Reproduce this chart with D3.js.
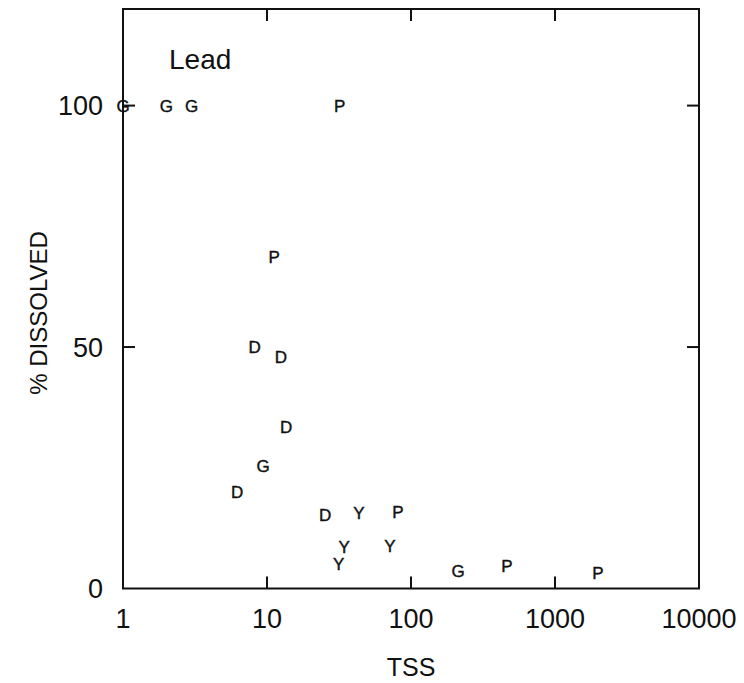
<!DOCTYPE html>
<html>
<head>
<meta charset="utf-8">
<script src="https://cdn.jsdelivr.net/npm/d3@7"></script>
<style>
  html, body { margin: 0; padding: 0; background: #fff; }
  svg text { font-family: "Liberation Sans", Arial, Helvetica, sans-serif; fill: #111; }
</style>
</head>
<body>
<svg id="chart" width="744" height="683"></svg>
<script>
// Sample codes plotted as letters (site groups)
const codes = ["G", "G", "G", "P", "P", "D", "D", "D", "G", "D", "D", "Y", "P", "Y", "Y", "Y", "G", "P", "P"];
// Total suspended solids
const tss = [1, 2, 3, 32, 11.2, 8.2, 12.5, 13.6, 9.4, 6.2, 25.3, 43.5, 81, 34.3, 31.4, 71.5, 212, 464, 1990];
// Percentage of lead in the dissolved phase
const dissolved = [100, 100, 100, 100, 68.6, 50.0, 47.9, 33.4, 25.4, 20.0, 15.3, 15.6, 15.9, 8.6, 5.1, 8.8, 3.6, 4.7, 3.2];

const xTicks = [1, 10, 100, 1000, 10000];
const xTickLabels = ["1", "10", "100", "1000", "10000"];
const yTicks = [0, 50, 100];
const yTickLabels = ["0", "50", "100"];

const svg = d3.select("#chart");
const plotLeft = 123, plotRight = 699, plotTop = 9, plotBottom = 588.5;

const x = d3.scaleLog().domain([1, 10000]).range([plotLeft, plotRight]);
const y = d3.scaleLinear().domain([0, 120]).range([plotBottom, plotTop]);

const tickLen = 12;
const stroke = "#111";

// Frame
svg.append("rect")
  .attr("x", plotLeft).attr("y", plotTop)
  .attr("width", plotRight - plotLeft).attr("height", plotBottom - plotTop)
  .attr("fill", "none").attr("stroke", stroke).attr("stroke-width", 2);

// Inward ticks on all four sides (interior positions only)
const innerX = xTicks.filter(v => v > 1 && v < 10000);
const innerY = yTicks.filter(v => v > 0);
const tg = svg.append("g").attr("stroke", stroke).attr("stroke-width", 2);
innerX.forEach(v => {
  tg.append("line").attr("x1", x(v)).attr("x2", x(v)).attr("y1", plotBottom).attr("y2", plotBottom - tickLen);
  tg.append("line").attr("x1", x(v)).attr("x2", x(v)).attr("y1", plotTop).attr("y2", plotTop + tickLen);
});
innerY.forEach(v => {
  tg.append("line").attr("x1", plotLeft).attr("x2", plotLeft + tickLen).attr("y1", y(v)).attr("y2", y(v));
  tg.append("line").attr("x1", plotRight).attr("x2", plotRight - tickLen).attr("y1", y(v)).attr("y2", y(v));
});

// Tick labels
svg.append("g").selectAll("text").data(xTicks).join("text")
  .attr("x", d => x(d)).attr("y", 628)
  .attr("text-anchor", "middle")
  .attr("font-size", 27)
  .text((d, i) => xTickLabels[i]);

svg.append("g").selectAll("text").data(yTicks).join("text")
  .attr("x", 103).attr("y", d => y(d))
  .attr("dy", "0.36em")
  .attr("text-anchor", "end")
  .attr("font-size", 27)
  .text((d, i) => yTickLabels[i]);

// Axis titles
svg.append("text")
  .attr("x", 411).attr("y", 676)
  .attr("text-anchor", "middle")
  .attr("font-size", 25)
  .text("TSS");

svg.append("text")
  .attr("transform", "translate(47,313) rotate(-90)")
  .attr("text-anchor", "middle")
  .attr("font-size", 24)
  .text("% DISSOLVED");

// Panel label
svg.append("text")
  .attr("x", 169).attr("y", 69)
  .attr("font-size", 28)
  .text("Lead");

// Data letters
svg.append("g").selectAll("text").data(codes).join("text")
  .attr("x", (d, i) => x(tss[i]))
  .attr("y", (d, i) => y(dissolved[i]))
  .attr("dy", "0.36em")
  .attr("text-anchor", "middle")
  .attr("font-size", 17)
  .attr("stroke", "#111")
  .attr("stroke-width", 0.4)
  .text(d => d);
</script>
</body>
</html>
